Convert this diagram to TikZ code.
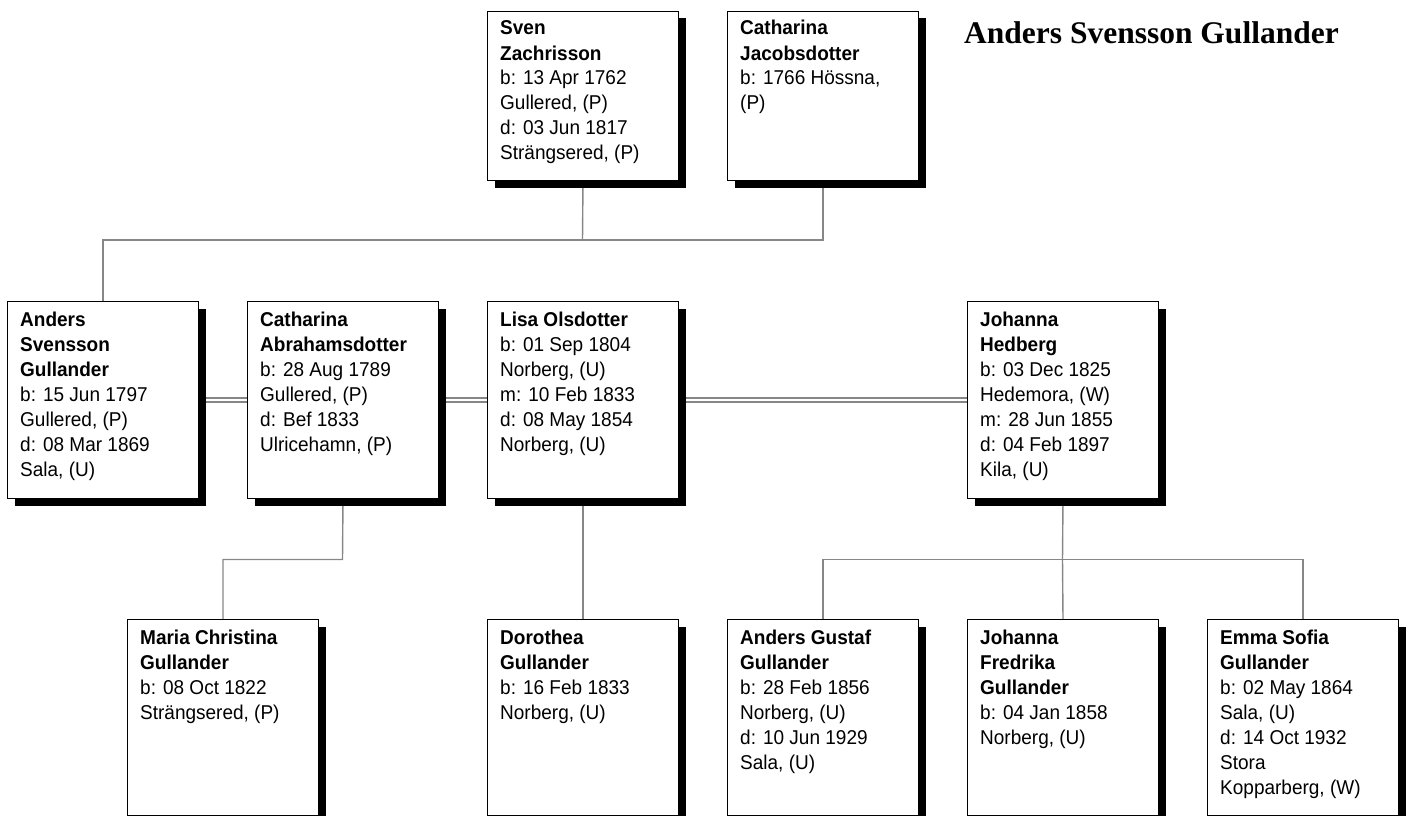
\documentclass[tikz,border=0pt]{standalone}
\usepackage{fontspec}
\setmainfont[FakeStretch=0.95]{Liberation Sans}
\newfontfamily\titlefont{Liberation Serif}
\usetikzlibrary{shadows,backgrounds}
\tikzset{
  personbox/.style={draw=black, fill=white, line width=1pt, rectangle, inner sep=0pt,
    minimum width=191pt, anchor=north west,
    drop shadow={shadow xshift=7pt, shadow yshift=-7pt, fill=black, opacity=1}},
  tallbox/.style={personbox, minimum height=197pt},
  topbox/.style={personbox, minimum height=169pt},
  lowbox/.style={personbox, minimum height=196pt},
  persontext/.style={anchor=base west, inner sep=0pt},
  link/.style={draw=black!47, line width=1.4pt},
  marriage/.style={draw=black!47, line width=1.2pt, double=white, double distance=2.8pt},
}
\newcommand{\ptext}[1]{\parbox[t]{185pt}{\raggedright\fontsize{20}{25}\selectfont #1}}
\begin{document}
\begin{tikzpicture}[x=1pt,y=-1pt]
\useasboundingbox (0,0) rectangle (1411,816);
% boxes
\node[topbox]  (sven)  at (487,11)  {};
\node[topbox]  (catj)  at (727,11)  {};
\node[tallbox] (anders) at (7,301)  {};
\node[tallbox] (cata)  at (247,301) {};
\node[tallbox] (lisa)  at (487,301) {};
\node[tallbox] (johh)  at (967,301) {};
\node[lowbox]  (maria) at (127,619) {};
\node[lowbox]  (doro)  at (487,619) {};
\node[lowbox]  (andg)  at (727,619) {};
\node[lowbox]  (johf)  at (967,619) {};
\node[lowbox]  (emma)  at (1207,619) {};
% texts
\node[persontext] (svent) at (500,35) {\ptext{\textbf{Sven}\\\textbf{Zachrisson}\\b: 13 Apr 1762\\Gullered, (P)\\d: 03 Jun 1817\\Strängsered, (P)}};
\node[persontext] (catjt) at (740,35) {\ptext{\textbf{Catharina}\\\textbf{Jacobsdotter}\\b: 1766 Hössna,\\(P)}};
\node[persontext] (anderst) at (20,326) {\ptext{\textbf{Anders}\\\textbf{Svensson}\\\textbf{Gullander}\\b: 15 Jun 1797\\Gullered, (P)\\d: 08 Mar 1869\\Sala, (U)}};
\node[persontext] (catat) at (260,326) {\ptext{\textbf{Catharina}\\\textbf{Abrahamsdotter}\\b: 28 Aug 1789\\Gullered, (P)\\d: Bef 1833\\Ulricehamn, (P)}};
\node[persontext] (lisat) at (500,326) {\ptext{\textbf{Lisa Olsdotter}\\b: 01 Sep 1804\\Norberg, (U)\\m: 10 Feb 1833\\d: 08 May 1854\\Norberg, (U)}};
\node[persontext] (johht) at (980,326) {\ptext{\textbf{Johanna}\\\textbf{Hedberg}\\b: 03 Dec 1825\\Hedemora, (W)\\m: 28 Jun 1855\\d: 04 Feb 1897\\Kila, (U)}};
\node[persontext] (mariat) at (140,644) {\ptext{\textbf{Maria Christina}\\\textbf{Gullander}\\b: 08 Oct 1822\\Strängsered, (P)}};
\node[persontext] (dorot) at (500,644) {\ptext{\textbf{Dorothea}\\\textbf{Gullander}\\b: 16 Feb 1833\\Norberg, (U)}};
\node[persontext] (andgt) at (740,644) {\ptext{\textbf{Anders Gustaf}\\\textbf{Gullander}\\b: 28 Feb 1856\\Norberg, (U)\\d: 10 Jun 1929\\Sala, (U)}};
\node[persontext] (johft) at (980,644) {\ptext{\textbf{Johanna}\\\textbf{Fredrika}\\\textbf{Gullander}\\b: 04 Jan 1858\\Norberg, (U)}};
\node[persontext] (emmat) at (1220,644) {\ptext{\textbf{Emma Sofia}\\\textbf{Gullander}\\b: 02 May 1864\\Sala, (U)\\d: 14 Oct 1932\\Stora\\Kopparberg, (W)}};
% title
\node[anchor=base west, inner sep=0pt, font=\titlefont\bfseries\fontsize{31.5}{36}\selectfont] (title) at (964,44) {Anders Svensson Gullander};
% connectors
\begin{scope}[on background layer]
  \coordinate (pj) at (582.5,240);
  \draw[link] (sven.south) -- (pj);
  \draw[link] (catj.south) |- (pj);
  \draw[link] (pj) -| (anders.north);
  \draw[marriage] (anders.east) -- (cata.west);
  \draw[marriage] (cata.east) -- (lisa.west);
  \draw[marriage] (lisa.east) -- (johh.west);
  \coordinate (cj) at (342.5,559.5);
  \draw[link] (cata.south) -- (cj) -| (maria.north);
  \draw[link] (lisa.south) -- (doro.north);
  \coordinate (hj) at (1062.5,559.5);
  \draw[link] (johh.south) -- (hj) -- (johf.north);
  \draw[link] (hj) -| (andg.north);
  \draw[link] (hj) -| (emma.north);
\end{scope}
\end{tikzpicture}
\end{document}
